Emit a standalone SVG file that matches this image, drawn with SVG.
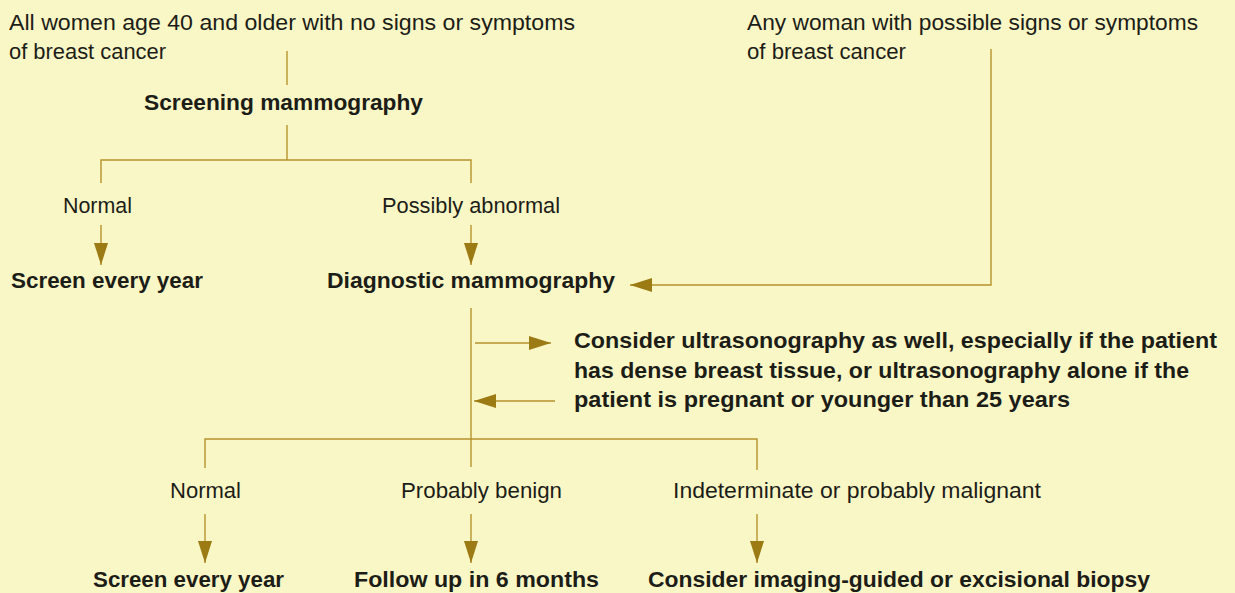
<svg xmlns="http://www.w3.org/2000/svg" width="1235" height="593" viewBox="0 0 1235 593">
<style>
text{font-family:"Liberation Sans Narrow","Liberation Sans",Arial,sans-serif;font-size:22px;fill:#1d1d18}
.b{font-weight:bold}
.c{fill:none;stroke:#b5922c;stroke-width:1.4}
.a{marker-end:url(#ah)}
</style>
<defs>
<marker id="ah" viewBox="0 0 22 14" refX="22" refY="7" markerWidth="22" markerHeight="14" markerUnits="userSpaceOnUse" orient="auto">
<path d="M0,0 L22,7 L0,14 Z" fill="#9c7a14"/>
</marker>
</defs>
<rect width="1235" height="593" fill="#faf7c6"/>
<g id="connectors">
<path class="c" d="M287,51 V85"/>
<path class="c" d="M287,125 V160"/>
<path class="c" d="M101,183 V160 H471 V183"/>
<path class="c a" d="M101,225 V265"/>
<path class="c a" d="M471,225 V265"/>
<path class="c a" d="M991,49 V285 H630"/>
<path class="c" d="M471,308 V467"/>
<path class="c a" d="M475,343 H551"/>
<path class="c a" d="M555,401 H474"/>
<path class="c" d="M205,468 V439 H757 V470"/>
<path class="c a" d="M205,514 V563"/>
<path class="c a" d="M471,514 V563"/>
<path class="c a" d="M757,514 V563"/>
</g>
<g id="n-women40">
<text x="9" y="30" textLength="566" lengthAdjust="spacingAndGlyphs">All women age 40 and older with no signs or symptoms</text>
<text x="9" y="59" textLength="157" lengthAdjust="spacingAndGlyphs">of breast cancer</text>
</g>
<g id="n-anywoman">
<text x="747" y="30" textLength="451" lengthAdjust="spacingAndGlyphs">Any woman with possible signs or symptoms</text>
<text x="747" y="59" textLength="159" lengthAdjust="spacingAndGlyphs">of breast cancer</text>
</g>
<g id="n-screening">
<text class="b" x="144" y="110" textLength="279" lengthAdjust="spacingAndGlyphs">Screening mammography</text>
</g>
<g id="n-normal1">
<text x="63" y="213" textLength="69" lengthAdjust="spacingAndGlyphs">Normal</text>
</g>
<g id="n-possibly">
<text x="382" y="213" textLength="178" lengthAdjust="spacingAndGlyphs">Possibly abnormal</text>
</g>
<g id="n-screen1">
<text class="b" x="11" y="288" textLength="192" lengthAdjust="spacingAndGlyphs">Screen every year</text>
</g>
<g id="n-diagnostic">
<text class="b" x="327" y="288" textLength="288" lengthAdjust="spacingAndGlyphs">Diagnostic mammography</text>
</g>
<g id="n-ultrasound">
<text class="b" x="574" y="348" textLength="643" lengthAdjust="spacingAndGlyphs">Consider ultrasonography as well, especially if the patient</text>
<text class="b" x="574" y="378" textLength="615" lengthAdjust="spacingAndGlyphs">has dense breast tissue, or ultrasonography alone if the</text>
<text class="b" x="574" y="407" textLength="496" lengthAdjust="spacingAndGlyphs">patient is pregnant or younger than 25 years</text>
</g>
<g id="n-normal2">
<text x="170" y="498" textLength="71" lengthAdjust="spacingAndGlyphs">Normal</text>
</g>
<g id="n-benign">
<text x="401" y="498" textLength="161" lengthAdjust="spacingAndGlyphs">Probably benign</text>
</g>
<g id="n-indeterminate">
<text x="673" y="498" textLength="368" lengthAdjust="spacingAndGlyphs">Indeterminate or probably malignant</text>
</g>
<g id="n-screen2">
<text class="b" x="93" y="587" textLength="191" lengthAdjust="spacingAndGlyphs">Screen every year</text>
</g>
<g id="n-followup">
<text class="b" x="354" y="587" textLength="245" lengthAdjust="spacingAndGlyphs">Follow up in 6 months</text>
</g>
<g id="n-biopsy">
<text class="b" x="648" y="587" textLength="502" lengthAdjust="spacingAndGlyphs">Consider imaging-guided or excisional biopsy</text>
</g>
</svg>
